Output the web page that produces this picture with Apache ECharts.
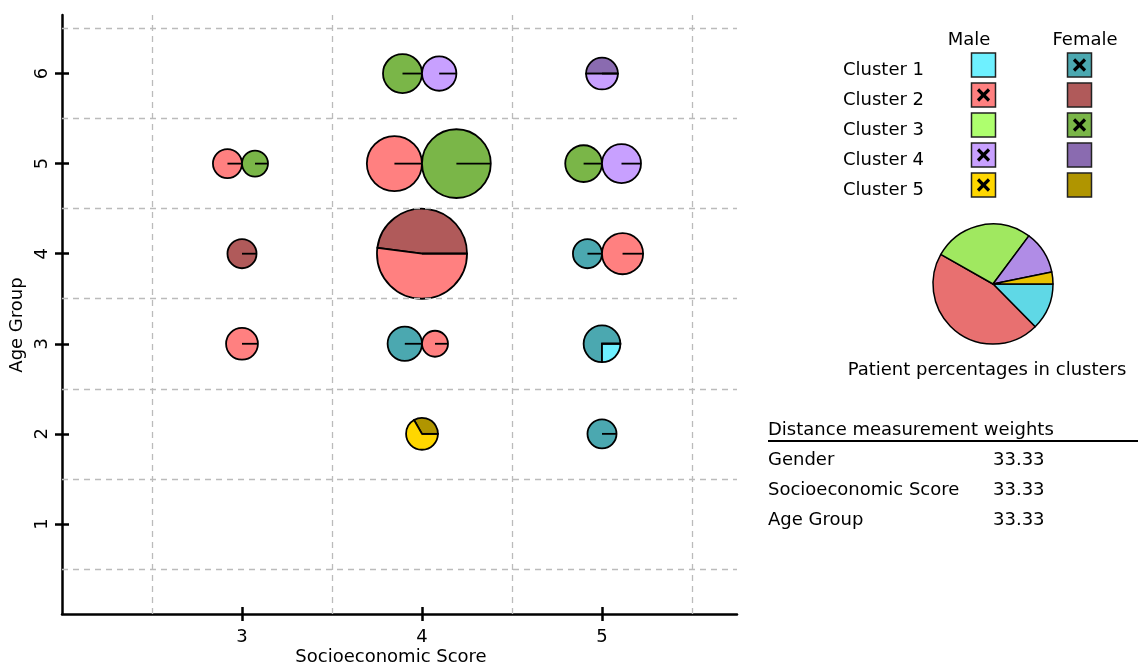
<!DOCTYPE html>
<html>
<head>
<meta charset="utf-8">
<title>Clusters by socioeconomic score and age group</title>
<script src="https://cdn.jsdelivr.net/npm/echarts@6/dist/echarts.min.js"></script>
<style>
  html, body { margin: 0; padding: 0; background: #fff; }
  #chart { width: 1138px; height: 665px; }
</style>
</head>
<body>
<div id="chart"></div>
<script>
// ---- data ----
const clusterNames = ['Cluster 1', 'Cluster 2', 'Cluster 3', 'Cluster 4', 'Cluster 5'];
const maleColors = ['#6ef0ff', '#ff8080', '#aeff6e', '#c8a0ff', '#ffd700'];
const femaleColors = ['#4ba8b0', '#b05a5a', '#7ab648', '#8a6bb0', '#b09500'];
const pieColors = ['#5fd8e6', '#e87070', '#a0e860', '#b08ce6', '#e8c200'];

// one entry per bubble (cluster inside one score / age cell)
const bubbleSes     = [4, 4, 5, 3, 3, 4, 4, 5, 5, 3, 4, 5, 5, 3, 4, 4, 5, 4, 5];
const bubbleAge     = [6, 6, 6, 5, 5, 5, 5, 5, 5, 4, 4, 4, 4, 3, 3, 3, 3, 2, 2];
const bubbleCluster = [3, 4, 4, 2, 3, 2, 3, 3, 4, 2, 2, 1, 2, 2, 1, 2, 1, 5, 1];
const bubbleFemale  = [9, 0, 3, 0, 4, 0, 28, 8, 0, 5, 23, 5, 0, 0, 7, 0, 6, 2, 5];
const bubbleMale    = [0, 7, 3, 5, 0, 18, 0, 0, 9, 0, 25, 0, 10, 6, 0, 4, 2, 4, 0];

// patient percentages per cluster (right pie)
const clusterShare = [12.6, 45.6, 27.0, 11.6, 3.2];

const xTicks = [3, 4, 5];
const yTicks = [1, 2, 3, 4, 5, 6];
const gridX = [2.5, 3.5, 4.5, 5.5];
const gridY = [0.5, 1.5, 2.5, 3.5, 4.5, 5.5, 6.5];

const weightNames = ['Gender', 'Socioeconomic Score', 'Age Group'];
const weightValues = ['33.33', '33.33', '33.33'];

// ---- build ----
const FONT = 'DejaVu Sans';
const sizeK = 6.5;   // px radius per sqrt(patient)

const bubbles = bubbleSes.map((x, i) => {
  const n = bubbleFemale[i] + bubbleMale[i];
  return { x: x, y: bubbleAge[i], c: bubbleCluster[i] - 1,
           f: bubbleFemale[i], m: bubbleMale[i], r: sizeK * Math.sqrt(n), shift: 0 };
});
// two clusters in one cell sit side by side, touching at the cell point
const cells = {};
bubbles.forEach(b => {
  const key = b.x + '|' + b.y;
  (cells[key] = cells[key] || []).push(b);
});
Object.values(cells).forEach(list => {
  if (list.length === 2) {
    list[0].shift = -list[0].r;
    list[1].shift = list[1].r;
  }
});

function renderBubble(params, api) {
  const b = bubbles[params.dataIndex];
  const pt = api.coord([api.value(0), api.value(1)]);
  const cx = pt[0] + b.shift, cy = pt[1], r = b.r;
  const aF = 2 * Math.PI * b.f / (b.f + b.m);
  const children = [];
  if (b.f > 0) {
    children.push({ type: 'sector',
      shape: { cx: cx, cy: cy, r: r, r0: 0, startAngle: -aF, endAngle: 0, clockwise: true },
      style: { fill: femaleColors[b.c], stroke: '#000', lineWidth: 1.8 } });
  }
  if (b.m > 0) {
    children.push({ type: 'sector',
      shape: { cx: cx, cy: cy, r: r, r0: 0, startAngle: -2 * Math.PI, endAngle: -aF, clockwise: true },
      style: { fill: maleColors[b.c], stroke: '#000', lineWidth: 1.8 } });
  }
  children.push({ type: 'line', shape: { x1: cx, y1: cy, x2: cx + r, y2: cy },
    style: { stroke: '#000', lineWidth: 1.8 } });
  return { type: 'group', children: children };
}

// which gender dominates each cluster -> cross in legend
const femTotal = [0, 0, 0, 0, 0], maleTotal = [0, 0, 0, 0, 0];
bubbles.forEach(b => { femTotal[b.c] += b.f; maleTotal[b.c] += b.m; });

const graphics = [];
const txt = (x, y, s, align, extra) => Object.assign({
  type: 'text', x: x, y: y,
  style: { text: s, font: '18px "' + FONT + '"', fill: '#000', align: align || 'left', verticalAlign: 'middle' }
}, extra || {});

graphics.push(txt(969, 40, 'Male', 'center'));
graphics.push(txt(1085, 40, 'Female', 'center'));
const colX = [983.5, 1079.5];
clusterNames.forEach((name, i) => {
  const cy = 65 + i * 30;
  graphics.push(txt(843, cy + 5, name));
  [maleColors[i], femaleColors[i]].forEach((col, g) => {
    graphics.push({ type: 'rect', shape: { x: colX[g] - 12, y: cy - 12, width: 24, height: 24 },
      style: { fill: col, stroke: '#222', lineWidth: 1.5 } });
  });
  const g = femTotal[i] > maleTotal[i] ? 1 : 0;
  const h = 5.5;
  graphics.push({ type: 'polyline', shape: { points: [[colX[g] - h, cy - h], [colX[g] + h, cy + h]] },
    style: { stroke: '#000', lineWidth: 3.2 } });
  graphics.push({ type: 'polyline', shape: { points: [[colX[g] - h, cy + h], [colX[g] + h, cy - h]] },
    style: { stroke: '#000', lineWidth: 3.2 } });
});

graphics.push(txt(987, 370, 'Patient percentages in clusters', 'center'));
graphics.push(txt(768, 430, 'Distance measurement weights'));
graphics.push({ type: 'line', shape: { x1: 768, y1: 441, x2: 1138, y2: 441 },
  style: { stroke: '#000', lineWidth: 2 } });
weightNames.forEach((n, i) => {
  graphics.push(txt(768, 460 + i * 30, n));
  graphics.push(txt(993, 460 + i * 30, weightValues[i]));
});
graphics.push(txt(391, 657, 'Socioeconomic Score', 'center'));
graphics.push(txt(17, 325, 'Age Group', 'center', { rotation: Math.PI / 2 }));

const axisText = { color: '#000', fontFamily: FONT, fontSize: 18 };
const lineAxis = { show: true, lineStyle: { color: '#000', width: 2.5 } };
const tickLine = { color: '#000', width: 2.5 };

const option = {
  animation: false,
  grid: { left: 62, top: 15, right: 401, bottom: 51, containLabel: false },
  xAxis: [
    { type: 'value', min: 2, max: 5.75, position: 'bottom',
      axisLine: lineAxis, splitLine: { show: false },
      axisTick: { customValues: xTicks, length: 7, lineStyle: tickLine },
      axisLabel: Object.assign({ customValues: xTicks, margin: 14 }, axisText) },
    { type: 'value', min: 2, max: 5.75, position: 'bottom',
      axisLine: { show: false }, splitLine: { show: false }, axisLabel: { show: false },
      axisTick: { customValues: xTicks, inside: true, length: 7, lineStyle: tickLine } }
  ],
  yAxis: [
    { type: 'value', min: 0, max: 6.65, position: 'left',
      axisLine: lineAxis, splitLine: { show: false },
      axisTick: { customValues: yTicks, length: 7, lineStyle: tickLine },
      axisLabel: Object.assign({ customValues: yTicks, margin: 11, rotate: 90 }, axisText) },
    { type: 'value', min: 0, max: 6.65, position: 'left',
      axisLine: { show: false }, splitLine: { show: false }, axisLabel: { show: false },
      axisTick: { customValues: yTicks, inside: true, length: 7, lineStyle: tickLine } }
  ],
  series: [
    { type: 'scatter', data: [], silent: true, z: 1,
      markLine: { silent: true, symbol: 'none', animation: false,
        label: { show: false },
        lineStyle: { color: '#bbb', width: 1.3, type: [6, 5] },
        emphasis: { disabled: true },
        data: gridX.map(v => ({ xAxis: v })).concat(gridY.map(v => ({ yAxis: v }))) } },
    { type: 'custom', renderItem: renderBubble, silent: true, z: 3,
      encode: { x: 0, y: 1 },
      data: bubbles.map(b => [b.x, b.y]) },
    { type: 'pie', center: [993, 284], radius: 60, startAngle: 0, clockwise: true,
      silent: true, label: { show: false }, labelLine: { show: false },
      itemStyle: { borderColor: '#000', borderWidth: 1.5 },
      emphasis: { disabled: true },
      data: clusterShare.map((v, i) => ({ value: v, name: clusterNames[i], itemStyle: { color: pieColors[i] } })) }
  ],
  graphic: graphics
};

const chart = echarts.init(document.getElementById('chart'));
chart.setOption(option);
</script>
</body>
</html>
